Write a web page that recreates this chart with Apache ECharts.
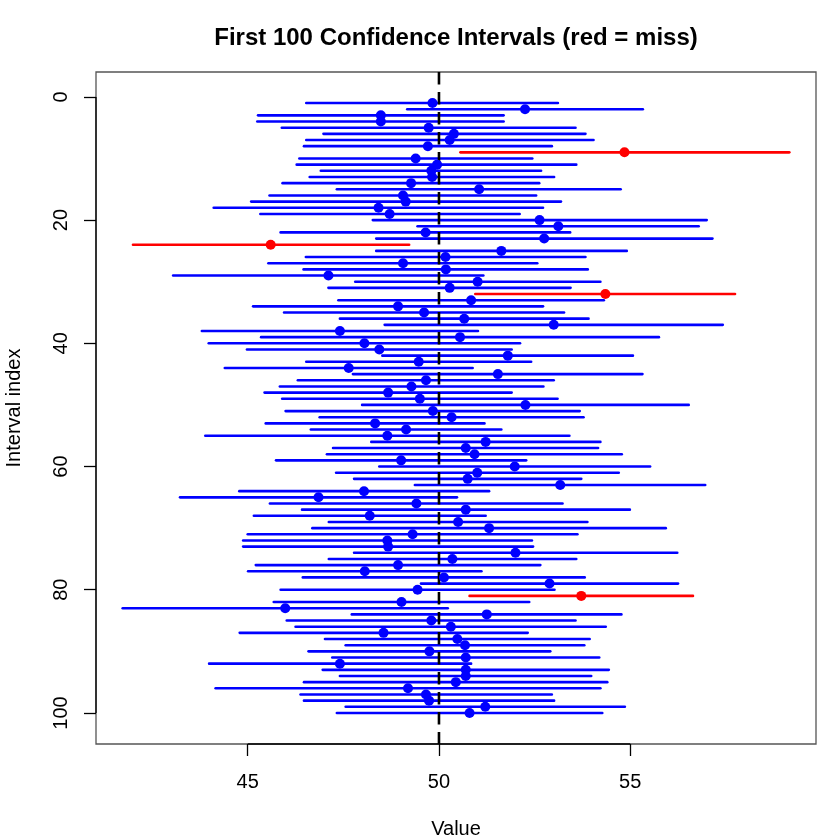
<!DOCTYPE html>
<html><head><meta charset="utf-8">
<script src="https://cdn.jsdelivr.net/npm/echarts@6/dist/echarts.min.js"></script>
<style>html,body{margin:0;padding:0;background:#fff}#c{width:840px;height:840px}</style>
</head><body><div id="c"></div>
<script>
// Interval index 1..100 (rows top to bottom)
const lower = [46.53,49.17,45.27,45.25,45.89,46.98,46.53,46.47,50.56,46.35,
46.28,46.91,46.62,45.91,47.33,45.57,45.09,44.11,45.33,48.27,
49.44,45.86,48.36,42.00,48.36,46.52,45.54,46.46,43.05,47.81,
47.11,50.95,47.37,45.14,45.95,47.41,48.58,43.80,45.35,43.98,
44.98,48.52,46.53,44.40,47.75,46.31,45.84,45.44,45.90,47.99,
45.99,46.88,45.47,46.65,43.89,48.23,47.23,47.07,45.74,48.44,
47.31,47.78,49.37,44.78,43.23,45.58,46.42,45.16,47.12,46.69,
45.00,44.88,44.88,47.78,47.12,45.21,45.01,46.44,49.53,45.86,
50.80,45.68,41.73,47.72,46.02,46.25,44.79,47.02,47.56,46.59,
47.21,43.99,46.96,47.41,46.47,44.16,46.38,46.47,47.56,47.33];
const upper = [53.11,55.33,51.69,51.69,53.57,53.83,54.04,52.95,59.16,52.44,
53.59,52.67,53.01,52.62,54.75,52.54,53.19,52.72,52.11,57.00,
56.79,53.43,57.15,49.22,54.91,53.83,52.57,53.89,51.16,54.22,
53.44,57.74,54.31,52.72,53.27,53.91,57.42,51.02,55.75,52.12,
51.90,55.07,52.41,50.88,55.32,53.00,52.73,51.90,53.10,56.53,
53.68,53.78,51.19,51.63,53.41,54.22,54.16,54.78,52.28,55.52,
54.70,53.72,56.96,51.31,50.47,53.23,54.99,51.22,53.88,55.93,
53.62,52.43,52.46,56.23,53.59,52.65,51.11,53.81,56.25,53.02,
56.64,52.36,50.23,54.77,53.57,54.36,52.32,53.94,53.80,52.91,
54.19,50.84,54.44,53.98,54.40,54.22,52.95,53.01,54.86,54.27];
const means = [49.83,52.25,48.48,48.48,49.73,50.39,50.28,49.71,54.85,49.39,
49.95,49.80,49.82,49.27,51.05,49.06,49.13,48.42,48.71,52.63,
53.12,49.65,52.75,45.60,51.63,50.17,49.06,50.18,47.11,51.01,
50.28,54.35,50.84,48.93,49.61,50.66,53.00,47.41,50.55,48.05,
48.44,51.80,49.47,47.64,51.54,49.66,49.28,48.67,49.50,52.26,
49.84,50.33,48.33,49.14,48.65,51.22,50.70,50.93,49.01,51.98,
51.00,50.75,53.17,48.04,46.85,49.41,50.70,48.19,50.50,51.31,
49.31,48.65,48.67,52.00,50.35,48.93,48.06,50.13,52.89,49.44,
53.72,49.02,45.98,51.25,49.80,50.31,48.55,50.48,50.68,49.75,
50.70,47.41,50.70,50.70,50.44,49.19,49.66,49.74,51.21,50.80];
const trueMean = 50;
const xTicks = [45, 50, 55];
const yTicks = [0, 20, 40, 60, 80, 100];

const n = lower.length;
const lo = Math.min(...lower), hi = Math.max(...upper);
const xMin = lo - 0.04 * (hi - lo), xMax = hi + 0.04 * (hi - lo);
const yMin = -0.04 * (n + 1), yMax = (n + 1) * 1.04;
const colorOf = i => (lower[i] > trueMean || upper[i] < trueMean) ? '#FF0000' : '#0000FF';

const segData = lower.map((l, i) => ({ value: [i + 1, l, upper[i]], itemStyle: { color: colorOf(i) } }));
const ptData = means.map((m, i) => ({ value: [m, i + 1], itemStyle: { color: colorOf(i), opacity: 1 } }));
const FONT = 'Liberation Sans, Arial, Helvetica, sans-serif';

const chart = echarts.init(document.getElementById('c'), null, { renderer: 'canvas' });
chart.setOption({
  animation: false,
  backgroundColor: '#fff',
  title: {
    text: 'First 100 Confidence Intervals (red = miss)',
    left: 456, top: 26, padding: 0, textAlign: 'center',
    textStyle: { fontFamily: FONT, fontSize: 24, fontWeight: 'bold', color: '#000' }
  },
  grid: { left: 96, top: 72, right: 24, bottom: 96, show: true, borderColor: '#555', borderWidth: 1.3, containLabel: false, outerBoundsMode: 'none' },
  xAxis: {
    type: 'value', min: xMin, max: xMax, position: 'bottom',
    splitLine: { show: false },
    axisLine: { show: false, onZero: false },
    axisTick: { show: true, customValues: xTicks, length: 12, lineStyle: { color: '#000', width: 1.3 } },
    axisLabel: { customValues: xTicks, fontFamily: FONT, fontSize: 20, color: '#000', margin: 28 },
    name: 'Value', nameLocation: 'middle', nameGap: 75,
    nameTextStyle: { fontFamily: FONT, fontSize: 20, color: '#000' }
  },
  yAxis: {
    type: 'value', inverse: true, min: yMin, max: yMax, position: 'left',
    splitLine: { show: false },
    axisLine: { show: false, onZero: false },
    axisTick: { show: true, customValues: yTicks, length: 12, lineStyle: { color: '#000', width: 1.3 } },
    axisLabel: { customValues: yTicks, rotate: 90, fontFamily: FONT, fontSize: 20, color: '#000', margin: 25 },
    name: 'Interval index', nameLocation: 'middle', nameGap: 72, nameRotate: 90,
    nameTextStyle: { fontFamily: FONT, fontSize: 20, color: '#000' }
  },
  series: [
    {
      type: 'custom', name: 'axes', z: 1, clip: false, silent: true,
      data: [[0]],
      renderItem: (params, api) => {
        const a = api.coord([xTicks[0], yMax]), b = api.coord([xTicks[xTicks.length - 1], yMax]);
        const c = api.coord([xMin, yTicks[0]]), d = api.coord([xMin, yTicks[yTicks.length - 1]]);
        return { type: 'group', children: [
          { type: 'line', shape: { x1: a[0], y1: a[1], x2: b[0], y2: b[1] }, style: { stroke: '#000', lineWidth: 1.3 } },
          { type: 'line', shape: { x1: c[0], y1: c[1], x2: d[0], y2: d[1] }, style: { stroke: '#000', lineWidth: 1.3 } }
        ] };
      }
    },
    {
      type: 'custom', name: 'intervals', z: 2,
      encode: { x: [1, 2], y: 0 },
      data: segData,
      renderItem: (params, api) => {
        const y = api.value(0), l = api.value(1), u = api.value(2);
        const p1 = api.coord([l, y]), p2 = api.coord([u, y]);
        return { type: 'line', shape: { x1: p1[0], y1: p1[1], x2: p2[0], y2: p2[1] },
          style: { stroke: api.visual('color'), lineWidth: 2.6, lineCap: 'round' } };
      }
    },
    {
      type: 'custom', name: 'true mean', z: 3,
      data: [[trueMean]],
      renderItem: (params, api) => {
        const t = api.coord([api.value(0), yMin]), b = api.coord([api.value(0), yMax]);
        return { type: 'line', shape: { x1: t[0], y1: t[1], x2: b[0], y2: b[1] },
          style: { stroke: '#000', lineWidth: 2.6, lineDash: [12.5, 7.5] } };
      }
    },
    {
      type: 'scatter', name: 'means', z: 4,
      symbol: 'circle', symbolSize: 10,
      itemStyle: { opacity: 1 },
      data: ptData
    }
  ]
});
</script>
</body></html>
